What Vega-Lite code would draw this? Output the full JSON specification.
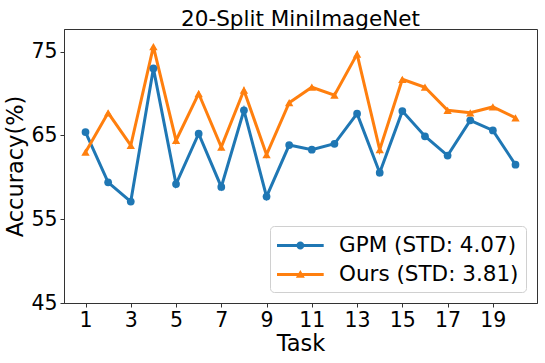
{
  "$schema": "https://vega.github.io/schema/vega-lite/v6.json",
  "width": 473,
  "height": 274,
  "autosize": "none",
  "padding": {"left": 64, "top": 29, "right": 8, "bottom": 60},
  "background": "white",
  "config": {
    "font": "DejaVu Sans",
    "view": {"stroke": "#333", "strokeWidth": 1},
    "axis": {"grid": false, "domainColor": "#333", "tickColor": "#333", "tickSize": 4, "labelFontSize": 20.5, "labelColor": "black", "titleFontSize": 22.5, "titleFontWeight": "normal", "titleColor": "black", "labelFont": "DejaVu Sans", "titleFont": "DejaVu Sans"},
    "legend": {"labelFontSize": 21.5, "labelFont": "DejaVu Sans", "labelColor": "black", "labelLimit": 400}
  },
  "title": {"text": "20-Split MiniImageNet", "fontSize": 21.5, "fontWeight": "normal", "font": "DejaVu Sans", "color": "black", "offset": -1},
  "data": {
    "values": [
      {"task": 1, "acc": 65.4, "series": "GPM (STD: 4.07)"},
      {"task": 2, "acc": 59.4, "series": "GPM (STD: 4.07)"},
      {"task": 3, "acc": 57.1, "series": "GPM (STD: 4.07)"},
      {"task": 4, "acc": 73.0, "series": "GPM (STD: 4.07)"},
      {"task": 5, "acc": 59.2, "series": "GPM (STD: 4.07)"},
      {"task": 6, "acc": 65.2, "series": "GPM (STD: 4.07)"},
      {"task": 7, "acc": 58.85, "series": "GPM (STD: 4.07)"},
      {"task": 8, "acc": 68.0, "series": "GPM (STD: 4.07)"},
      {"task": 9, "acc": 57.7, "series": "GPM (STD: 4.07)"},
      {"task": 10, "acc": 63.85, "series": "GPM (STD: 4.07)"},
      {"task": 11, "acc": 63.3, "series": "GPM (STD: 4.07)"},
      {"task": 12, "acc": 64.0, "series": "GPM (STD: 4.07)"},
      {"task": 13, "acc": 67.6, "series": "GPM (STD: 4.07)"},
      {"task": 14, "acc": 60.55, "series": "GPM (STD: 4.07)"},
      {"task": 15, "acc": 67.9, "series": "GPM (STD: 4.07)"},
      {"task": 16, "acc": 64.9, "series": "GPM (STD: 4.07)"},
      {"task": 17, "acc": 62.6, "series": "GPM (STD: 4.07)"},
      {"task": 18, "acc": 66.8, "series": "GPM (STD: 4.07)"},
      {"task": 19, "acc": 65.6, "series": "GPM (STD: 4.07)"},
      {"task": 20, "acc": 61.5, "series": "GPM (STD: 4.07)"},
      {"task": 1, "acc": 63.0, "series": "Ours (STD: 3.81)"},
      {"task": 2, "acc": 67.7, "series": "Ours (STD: 3.81)"},
      {"task": 3, "acc": 63.8, "series": "Ours (STD: 3.81)"},
      {"task": 4, "acc": 75.6, "series": "Ours (STD: 3.81)"},
      {"task": 5, "acc": 64.4, "series": "Ours (STD: 3.81)"},
      {"task": 6, "acc": 70.0, "series": "Ours (STD: 3.81)"},
      {"task": 7, "acc": 63.6, "series": "Ours (STD: 3.81)"},
      {"task": 8, "acc": 70.4, "series": "Ours (STD: 3.81)"},
      {"task": 9, "acc": 62.7, "series": "Ours (STD: 3.81)"},
      {"task": 10, "acc": 68.9, "series": "Ours (STD: 3.81)"},
      {"task": 11, "acc": 70.75, "series": "Ours (STD: 3.81)"},
      {"task": 12, "acc": 69.8, "series": "Ours (STD: 3.81)"},
      {"task": 13, "acc": 74.7, "series": "Ours (STD: 3.81)"},
      {"task": 14, "acc": 63.3, "series": "Ours (STD: 3.81)"},
      {"task": 15, "acc": 71.7, "series": "Ours (STD: 3.81)"},
      {"task": 16, "acc": 70.75, "series": "Ours (STD: 3.81)"},
      {"task": 17, "acc": 68.0, "series": "Ours (STD: 3.81)"},
      {"task": 18, "acc": 67.7, "series": "Ours (STD: 3.81)"},
      {"task": 19, "acc": 68.4, "series": "Ours (STD: 3.81)"},
      {"task": 20, "acc": 67.1, "series": "Ours (STD: 3.81)"}
    ]
  },
  "encoding": {
    "x": {"field": "task", "type": "quantitative", "scale": {"domain": [0.05, 20.95], "nice": false, "zero": false}, "axis": {"values": [1, 3, 5, 7, 9, 11, 13, 15, 17, 19], "title": "Task", "labelPadding": 3, "titlePadding": 2}},
    "y": {"field": "acc", "type": "quantitative", "scale": {"domain": [45, 77.7], "nice": false, "zero": false}, "axis": {"values": [45, 55, 65, 75], "title": "Accuracy(%)", "labelPadding": 3, "titlePadding": 3}},
    "color": {"field": "series", "type": "nominal", "scale": {"domain": ["GPM (STD: 4.07)", "Ours (STD: 3.81)"], "range": ["#1f77b4", "#ff7f0e"]},
      "legend": {"title": null, "orient": "bottom-right", "offset": 11, "padding": 7, "strokeColor": "#d0d0d0", "fillColor": "white", "cornerRadius": 4, "symbolSize": 625, "labelOffset": 37, "rowPadding": 6, "symbolStrokeWidth": 0, "symbolType": "circle",
        "encode": {"symbols": {"update": {
          "shape": {"signal": "datum.value === 'GPM (STD: 4.07)' ? 'M-1,-0.12L2.736,-0.12L2.736,0.12L-1,0.12Z M0.548,0A0.32,0.32 0 1,1 1.188,0A0.32,0.32 0 1,1 0.548,0Z' : 'M-1,-0.12L2.736,-0.12L2.736,0.12L-1,0.12Z M0.508,0.26L0.868,-0.36L1.228,0.26Z'"},
          "fill": {"signal": "scale('color', datum.value)"},
          "strokeWidth": {"value": 0},
          "opacity": {"value": 1}
        }}}}
    }
  },
  "layer": [
    {
      "mark": {"type": "line", "strokeWidth": 3}
    },
    {
      "transform": [{"filter": "datum.series === 'GPM (STD: 4.07)'"}],
      "mark": {"type": "point", "filled": true, "opacity": 1, "size": 60, "shape": "circle"}
    },
    {
      "transform": [{"filter": "datum.series === 'Ours (STD: 3.81)'"}],
      "mark": {"type": "point", "filled": true, "opacity": 1, "size": 70, "shape": "triangle-up"}
    }
  ]
}
